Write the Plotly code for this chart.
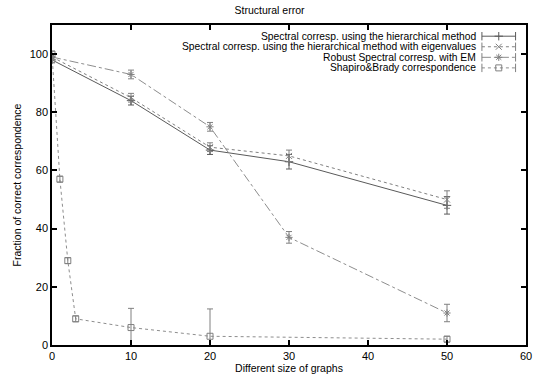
import plotly.graph_objects as go

# ---- data ----
x_main = [0, 10, 20, 30, 50]
s1_y = [98, 84, 67, 63, 48]
s1_err = [1, 1.5, 1.5, 2.5, 3]
s2_y = [99, 85, 68, 65, 50]
s2_err = [1, 1.5, 1.5, 2, 3]
s3_y = [99, 93, 75, 37, 11]
s3_err = [1, 1.5, 1.5, 2, 3]
x_sb = [0, 1, 2, 3, 10, 20, 50]
s4_y = [100, 57, 29, 9, 6, 3, 2]
s4_err = [1, 1, 1, 1, 6.6, 9.4, 1]

names = [
    "Spectral corresp. using the hierarchical method",
    "Spectral corresp. using the hierarchical method with eigenvalues",
    "Robust Spectral corresp. with EM",
    "Shapiro&Brady correspondence",
]
x_ticks = [0, 10, 20, 30, 40, 50, 60]
y_ticks = [0, 20, 40, 60, 80, 100]

FONT = "Liberation Sans, Arial, sans-serif"
styles = [
    dict(color="#5a5a5a", dash="solid", symbol="cross-thin", width=1.0),
    dict(color="#808080", dash="dot", symbol="x-thin", width=1.0),
    dict(color="#808080", dash="dashdot", symbol="asterisk", width=0.9),
    dict(color="#808080", dash="3px,3px", symbol="square-open", width=0.9),
]
series = [
    (x_main, s1_y, s1_err),
    (x_main, s2_y, s2_err),
    (x_main, s3_y, s3_err),
    (x_sb, s4_y, s4_err),
]


def marker_for(st):
    return dict(symbol=st["symbol"], size=6, color=st["color"],
                line=dict(color=st["color"], width=1))


fig = go.Figure()
for (xs, ys, es), st in zip(series, styles):
    fig.add_trace(go.Scatter(
        x=xs, y=ys, mode="lines+markers",
        line=dict(color=st["color"], dash=st["dash"], width=st["width"]),
        marker=marker_for(st),
        error_y=dict(type="data", array=es, visible=True, color=st["color"],
                     thickness=1, width=3),
        showlegend=False, cliponaxis=True,
    ))

# legend keys on an overlay axis (0..1)
rows = [0.965, 0.932, 0.899, 0.866]
x0, x1 = 0.907, 0.978
for r, st, nm in zip(rows, styles, names):
    fig.add_trace(go.Scatter(
        x=[x0, x1], y=[r, r], mode="lines+markers", xaxis="x2", yaxis="y2",
        line=dict(color=st["color"], dash=st["dash"], width=st["width"]),
        marker=dict(symbol="line-ns", size=6, line=dict(color=st["color"], width=1)),
        showlegend=False, hoverinfo="skip",
    ))
    fig.add_trace(go.Scatter(
        x=[(x0 + x1) / 2], y=[r], mode="markers", xaxis="x2", yaxis="y2",
        marker=marker_for(st),
        showlegend=False, hoverinfo="skip",
    ))
    fig.add_annotation(x=0.899, y=r, xref="x2", yref="y2", text=nm,
                       showarrow=False, xanchor="right", yanchor="middle",
                       font=dict(family=FONT, size=10.3, color="black"))

axis_common = dict(showgrid=False, zeroline=False, showline=True, linecolor="black",
                   linewidth=1.5, mirror="ticks", ticks="inside", ticklen=5,
                   tickcolor="black", tickwidth=1.5,
                   tickfont=dict(family=FONT, size=11, color="black"))

fig.update_layout(
    width=539, height=382,
    margin=dict(l=52, r=7, t=25, b=37),
    paper_bgcolor="white", plot_bgcolor="white",
    title=dict(text="Structural error", x=0.5, xanchor="center", y=0.972, yanchor="middle",
               font=dict(family=FONT, size=10.5, color="black")),
    xaxis=dict(range=[0, 60], tickvals=x_ticks, **axis_common,
               title=dict(text="Different size of graphs", standoff=4,
                          font=dict(family=FONT, size=10.5, color="black"))),
    yaxis=dict(range=[0, 110], tickvals=y_ticks, **axis_common,
               title=dict(text="Fraction of correct correspondence", standoff=6,
                          font=dict(family=FONT, size=10.5, color="black"))),
    xaxis2=dict(range=[0, 1], overlaying="x", visible=False, fixedrange=True),
    yaxis2=dict(range=[0, 1], overlaying="y", visible=False, fixedrange=True),
    showlegend=False,
)

fig.write_html("out.html", config={"displayModeBar": False},
               post_script="document.body.style.margin='0';document.body.style.overflow='hidden';")
